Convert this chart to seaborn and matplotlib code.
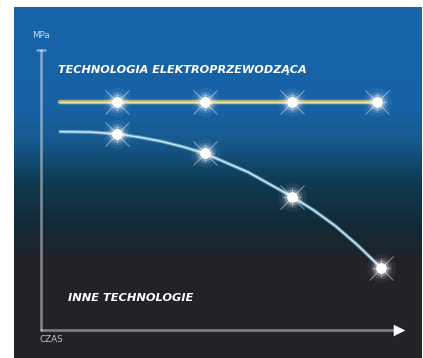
import numpy as np
import pandas as pd
import matplotlib
matplotlib.use("Agg")
import matplotlib.pyplot as plt
import seaborn as sns
from matplotlib.colors import LinearSegmentedColormap

# Data (time steps vs. strength in MPa)
top_x = [0.35, 1.0, 2.0, 3.0, 4.0]
top_y = [10.0, 10.0, 10.0, 10.0, 10.0]
top_star_x = [1.0, 2.0, 3.0, 3.97]
top_star_y = [10.0, 10.0, 10.0, 10.0]

low_x = [0.35, 0.7, 1.0, 1.25, 1.5, 1.75, 2.0, 2.5, 3.0, 3.25, 3.5, 3.75, 4.02]
low_y = [8.7, 8.68, 8.6, 8.46, 8.28, 8.04, 7.75, 6.92, 5.85, 5.25, 4.55, 3.72, 2.72]
low_star_x = [1.0, 2.0, 3.0, 4.02]
low_star_y = [8.6, 7.75, 5.85, 2.72]

label_top = "TECHNOLOGIA ELEKTROPRZEWODZĄCA"
label_low = "INNE TECHNOLOGIE"
y_label = "MPa"
x_label = "CZAS"

top_df = pd.DataFrame({"t": top_x, "mpa": top_y})
low_df = pd.DataFrame({"t": low_x, "mpa": low_y})
top_stars = pd.DataFrame({"t": top_star_x, "mpa": top_star_y})
low_stars = pd.DataFrame({"t": low_star_x, "mpa": low_star_y})
stars = pd.concat([top_stars, low_stars], ignore_index=True)

sns.set_style("white")

W, H = 423, 358
fig = plt.figure(figsize=(W / 100, H / 100), dpi=100)
fig.patch.set_facecolor("white")

# panel area (pixels): x 14..421, y 7..358
ax = fig.add_axes([14 / W, 0, 407 / W, 351 / H])


# pixel -> data helpers (px = 29.5 + 87.5*t, py = 330 - 22.8*mpa)
def dx(px):
    return (px - 29.5) / 87.5


def dy(py):
    return (330 - py) / 22.8


x0, x1 = dx(14), dx(421)
y0, y1 = dy(358), dy(7)
ax.set_xlim(x0, x1)
ax.set_ylim(y0, y1)
ax.set_axis_off()

# background gradient, blue at top to dark grey at the bottom
grad_cmap = LinearSegmentedColormap.from_list("bg", [
    (0.0, "#232227"),
    (0.27, "#222328"),
    (0.38, "#132a36"),
    (0.50, "#0e3a52"),
    (0.62, "#165a8f"),
    (0.72, "#1862a6"),
    (1.0, "#1765ab"),
])
grad = np.linspace(0, 1, 256).reshape(-1, 1)
ax.imshow(grad, extent=[x0, x1, y0, y1], origin="lower", aspect="auto",
          cmap=grad_cmap, zorder=0)

# axes (frame) with arrow
ax_x = dx(41)
ax.plot([ax_x, ax_x], [0, dy(50)], color="white", alpha=0.45, lw=1.8, zorder=2)
ax.plot([dx(37), dx(45)], [dy(50), dy(50)], color="white", alpha=0.45, lw=1.8, zorder=2)
ax.plot([ax_x, dx(396)], [0, 0], color="white", alpha=0.45, lw=1.8, zorder=2)
ax.scatter([dx(399)], [0], marker=">", s=70, color="white", zorder=3, linewidths=0)

# top line: yellowish with light core
sns.lineplot(data=top_df, x="t", y="mpa", ax=ax, color="#b4b46a", lw=3.2, zorder=3)
sns.lineplot(data=top_df, x="t", y="mpa", ax=ax, color="#e8e8b8", lw=1.0, zorder=4)

# lower curve: pale blue
sns.lineplot(data=low_df, x="t", y="mpa", ax=ax, color="#7fb8d8", lw=2.6, alpha=0.7, zorder=3)
sns.lineplot(data=low_df, x="t", y="mpa", ax=ax, color="#cfeaf6", lw=1.0, zorder=4)

# glowing stars
for s, a in [(420, 0.06), (230, 0.14), (130, 0.32)]:
    sns.scatterplot(data=stars, x="t", y="mpa", ax=ax, s=s, color="white",
                    alpha=a, linewidth=0, zorder=5, legend=False)
sns.scatterplot(data=stars, x="t", y="mpa", ax=ax, s=300, marker="x",
                color="#f4eaff", alpha=0.5, linewidth=0.7, zorder=6, legend=False)
sns.scatterplot(data=stars, x="t", y="mpa", ax=ax, s=170, marker="+",
                color="#f4eaff", alpha=0.45, linewidth=0.7, zorder=6, legend=False)
sns.scatterplot(data=stars, x="t", y="mpa", ax=ax, s=60, color="white",
                linewidth=0, zorder=7, legend=False)

# texts
ax.text(dx(58), dy(70), label_top, color="white", fontsize=8.15,
        fontweight="bold", fontstyle="italic", va="center", ha="left", zorder=8)
ax.text(dx(68), dy(298), label_low, color="white", fontsize=8.2,
        fontweight="bold", fontstyle="italic", va="center", ha="left", zorder=8)
ax.text(dx(32), dy(36), y_label, color="#c9d9ee", fontsize=6.3,
        va="center", ha="left", zorder=8)
ax.text(dx(40), dy(340), x_label, color="#c8c8c8", fontsize=6.3,
        va="center", ha="left", zorder=8)

fig.savefig("out.png", dpi=100)
